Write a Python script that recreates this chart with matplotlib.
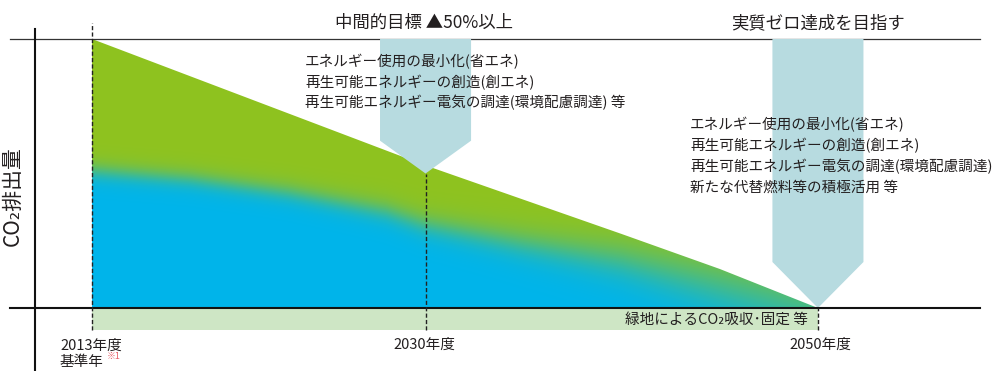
import numpy as np
import matplotlib.pyplot as plt
from matplotlib.patches import Polygon
from matplotlib.colors import to_rgb

plt.rcParams['font.family'] = ['Noto Sans CJK JP', 'DejaVu Sans']

# CO2 emissions as % of the 2013 base year
total_years = [2013, 2030, 2040, 2045, 2050]
total_vals = [100, 53, 27.5, 14.5, 0]
# upper edge of the blue (energy) part, % of 2013
energy_years = [2013, 2018, 2023, 2028, 2030, 2035, 2040, 2045, 2050]
energy_vals = [51, 48, 43, 36, 31, 24, 18, 9, 0]

milestones = [2030, 2050]
milestone_targets = [50, 0]
milestone_titles = ['中間的目標 ▲50%以上', '実質ゼロ達成を目指す']
tick_years = [2013, 2030, 2050]
tick_labels = ['2013年度', '2030年度', '2050年度']
measures_2030 = ['エネルギー使用の最小化(省エネ)',
                 '再生可能エネルギーの創造(創エネ)',
                 '再生可能エネルギー電気の調達(環境配慮調達) 等']
measures_2050 = ['エネルギー使用の最小化(省エネ)',
                 '再生可能エネルギーの創造(創エネ)',
                 '再生可能エネルギー電気の調達(環境配慮調達)',
                 '新たな代替燃料等の積極活用 等']
sink_label = '緑地によるCO₂吸収･固定 等'

W, H = 1000, 371
green = np.array(to_rgb('#8fc31f'))
blue = np.array(to_rgb('#00b4eb'))
arrow_col = '#b7dbe0'
band_col = '#cee6c5'
txt = '#231f20'

fig = plt.figure(figsize=(W / 100, H / 100), dpi=100)
ax = fig.add_axes([0, 0, 1, 1])
ax.axis('off')

# pixel helpers for layout
def fx(px):
    return px / W

def fy(py):
    return 1 - py / H

# gradient fill green -> blue, clipped to the emissions polygon
xs = np.linspace(2013, 2050, 1400)
vs = np.linspace(0, 100, 700)
X, V = np.meshgrid(xs, vs)
b = np.interp(X, energy_years, energy_vals)
frac = (X - 2013) / 37
s = 2.0 + 6 * frac ** 3
t = 1 / (1 + np.exp(-(b - V) / s))
img = green[None, None, :] * (1 - t[..., None]) + blue[None, None, :] * t[..., None]
im = ax.imshow(img, extent=[2013, 2050, 0, 100], origin='lower',
               aspect='auto', interpolation='bilinear', zorder=1)
poly = Polygon(list(zip(total_years, total_vals)) + [(2013, 0)], closed=True,
               facecolor='none', edgecolor='none')
ax.add_patch(poly)
im.set_clip_path(poly)

# green-space band below the axis
band_depth = 8.2
ax.fill_between([tick_years[0], tick_years[-1]], -band_depth, 0,
                color=band_col, lw=0, zorder=0.5)

# target arrows
half_w = 2.32
drops = [12.2, 17.1]
for m, tv, d in zip(milestones, milestone_targets, drops):
    pts = [(m - half_w, 100), (m + half_w, 100), (m + half_w, tv + d),
           (m, tv), (m - half_w, tv + d)]
    ax.add_patch(Polygon(pts, closed=True, facecolor=arrow_col,
                         edgecolor='none', zorder=3))

ax.set_xlim(2013 - 92 / 19.62, 2013 + 908 / 19.62)
ax.set_ylim(-63 / 2.69, 100 + 39 / 2.69)

# frame lines
ax.axhline(100, xmin=0.01, xmax=0.98, color='#333333', lw=0.9, zorder=2)
ax.axhline(0, xmin=0.01, xmax=0.98, color='#111111', lw=1.5, zorder=4)
ax.plot([0.035, 0.035], [0, fy(29)], transform=ax.transAxes,
        color='#111111', lw=1.5, zorder=4)

# dashed year markers
dash_tops = [106, milestone_targets[0], milestone_targets[1]]
for yr, top in zip(tick_years, dash_tops):
    ax.plot([yr, yr], [-band_depth, top], color='#222222', lw=1.0,
            ls=(0, (3, 1.6)), zorder=5)

# titles above the arrows
for m, title in zip([424, 818], milestone_titles):
    fig.text(fx(m), fy(23), title, ha='center', va='center',
             fontsize=12.5, color=txt)

for i, line in enumerate(measures_2030):
    fig.text(fx(305), fy(62 + 20.5 * i), line, ha='left', va='center',
             fontsize=10.5, color=txt, zorder=6)
for i, line in enumerate(measures_2050):
    fig.text(fx(690), fy(125 + 21 * i), line, ha='left', va='center',
             fontsize=10.5, color=txt, zorder=6)

fig.text(fx(13), fy(196), 'CO₂排出量', rotation=90, ha='center',
         va='center', fontsize=15, color=txt)

# x labels
fig.text(fx(60), fy(346), tick_labels[0], ha='left', va='center',
         fontsize=10.5, color=txt)
fig.text(fx(60), fy(362), '基準年', ha='left', va='center',
         fontsize=10.5, color=txt)
fig.text(fx(107), fy(356), '※1', ha='left', va='center',
         fontsize=6.5, color='#e8606a')
fig.text(fx(424), fy(345), tick_labels[1], ha='center', va='center',
         fontsize=10.5, color=txt)
fig.text(fx(820), fy(345), tick_labels[2], ha='center', va='center',
         fontsize=10.5, color=txt)

fig.text(fx(808), fy(319.5), sink_label, ha='right', va='center',
         fontsize=10.5, color=txt)

fig.savefig('out.png', dpi=100)
